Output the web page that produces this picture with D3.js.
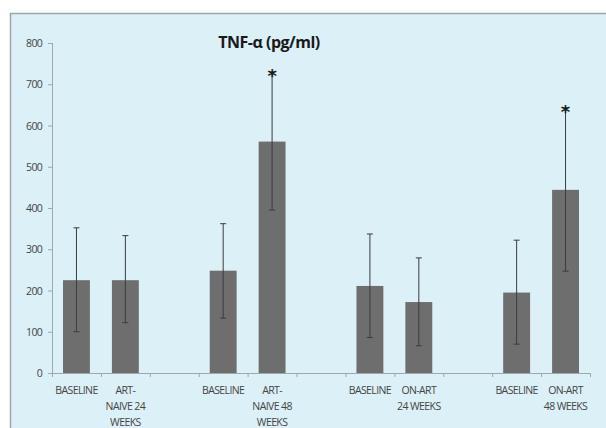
<!DOCTYPE html>
<html>
<head>
<meta charset="utf-8">
<script src="https://cdn.jsdelivr.net/npm/d3@7"></script>
<style>
  html, body { margin: 0; background: #fff; overflow: hidden; }
  svg { display: block; }
</style>
</head>
<body>
<div id="chart"></div>
<script>
// categories (lines of each x label), empty ones are the gaps between groups
const categories = [
    ['BASELINE'], ['ART-', 'NAIVE 24', 'WEEKS'], [''],
    ['BASELINE'], ['ART-', 'NAIVE 48', 'WEEKS'], [''],
    ['BASELINE'], ['ON-ART', '24 WEEKS'], [''],
    ['BASELINE'], ['ON-ART', '48 WEEKS']
];
const means = [225, 225, null, 248, 561, null, 211, 172, null, 195, 444];
const errHigh = [352, 333, null, 362, 730, null, 337, 279, null, 322, 643];
const errLow = [100, 122, null, 133, 395, null, 86, 66, null, 70, 247];
const starred = [false, false, false, false, true, false, false, false, false, false, true];
const yTicks = [0, 100, 200, 300, 400, 500, 600, 700, 800];

const width = 606, height = 428;
const margin = {left: 52, right: 16, top: 43, bottom: 55};

const svg = d3.select('#chart').append('svg')
    .attr('width', width)
    .attr('height', height);

// chart area background, frame only on top and left (rest runs off the picture)
svg.append('rect')
    .attr('x', 10).attr('y', 13)
    .attr('width', width).attr('height', height)
    .attr('fill', '#dcf0f8');
svg.append('path')
    .attr('d', `M10.5,${height}V13.5H${width}`)
    .attr('fill', 'none')
    .attr('stroke', '#9aa6ac')
    .attr('stroke-width', 1.5);

const x = d3.scaleBand()
    .domain(d3.range(categories.length))
    .range([margin.left, width - margin.right])
    .paddingInner(0.45)
    .paddingOuter(0.225);

const y = d3.scaleLinear()
    .domain([0, 800])
    .range([height - margin.bottom, margin.top]);

const step = x.step();
const x0 = margin.left;

// y axis line + ticks
svg.append('line')
    .attr('x1', x0 + 0.5).attr('x2', x0 + 0.5)
    .attr('y1', y(800)).attr('y2', y(0))
    .attr('stroke', '#a0a8ac');
svg.selectAll('.ytick')
    .data(yTicks)
    .enter()
    .append('line')
        .attr('x1', x0 - 4).attr('x2', x0)
        .attr('y1', d => y(d) + 0.5).attr('y2', d => y(d) + 0.5)
        .attr('stroke', '#a0a8ac');
svg.selectAll('.ylab')
    .data(yTicks)
    .enter()
    .append('text')
        .attr('x', x0 - 10)
        .attr('y', d => y(d) + 4)
        .attr('text-anchor', 'end')
        .attr('font-family', 'Open Sans, sans-serif')
        .attr('font-size', 10.5)
        .attr('letter-spacing', -0.7)
        .attr('fill', '#444')
        .text(d => d);

// bars
const idx = d3.range(categories.length).filter(i => means[i] != null);
svg.selectAll('.bar')
    .data(idx)
    .enter()
    .append('rect')
        .attr('x', i => x(i))
        .attr('y', i => y(means[i]))
        .attr('width', x.bandwidth())
        .attr('height', i => y(0) - y(means[i]))
        .attr('fill', '#6e6e6e');

// error bars
const cx = i => x(i) + x.bandwidth() / 2;
svg.selectAll('.err')
    .data(idx)
    .enter()
    .append('line')
        .attr('x1', cx).attr('x2', cx)
        .attr('y1', i => y(errHigh[i])).attr('y2', i => y(errLow[i]))
        .attr('stroke', '#3c3c3c')
        .attr('stroke-width', 1);
svg.selectAll('.capHi')
    .data(idx)
    .enter()
    .append('line')
        .attr('x1', i => cx(i) - 3).attr('x2', i => cx(i) + 3)
        .attr('y1', i => y(errHigh[i])).attr('y2', i => y(errHigh[i]))
        .attr('stroke', '#3c3c3c');
svg.selectAll('.capLo')
    .data(idx)
    .enter()
    .append('line')
        .attr('x1', i => cx(i) - 3).attr('x2', i => cx(i) + 3)
        .attr('y1', i => y(errLow[i])).attr('y2', i => y(errLow[i]))
        .attr('stroke', '#3c3c3c');

// significance stars
svg.selectAll('.star')
    .data(idx.filter(i => starred[i]))
    .enter()
    .append('text')
        .attr('x', cx)
        .attr('y', i => y(errHigh[i]) + 10)
        .attr('text-anchor', 'middle')
        .attr('font-family', 'DejaVu Sans, sans-serif')
        .attr('font-size', 18)
        .attr('font-weight', 'bold')
        .attr('fill', '#1a1a1a')
        .text('*');

// x axis line + ticks between categories
svg.append('line')
    .attr('x1', x0).attr('x2', x0 + step * categories.length)
    .attr('y1', y(0) + 0.5).attr('y2', y(0) + 0.5)
    .attr('stroke', '#a0a8ac');
svg.selectAll('.xtick')
    .data(d3.range(categories.length + 1))
    .enter()
    .append('line')
        .attr('x1', i => x0 + step * i + 0.5).attr('x2', i => x0 + step * i + 0.5)
        .attr('y1', y(0)).attr('y2', y(0) + 4)
        .attr('stroke', '#a0a8ac');

// x labels
const xl = svg.selectAll('.xlab')
    .data(d3.range(categories.length))
    .enter()
    .append('text')
        .attr('text-anchor', 'middle')
        .attr('font-family', 'Open Sans, sans-serif')
        .attr('font-size', 10.5)
        .attr('letter-spacing', -0.6)
        .attr('fill', '#444');
xl.selectAll('tspan')
    .data(i => categories[i].map(t => ({t, i})))
    .enter()
    .append('tspan')
        .attr('x', d => cx(d.i))
        .attr('y', (d, j) => y(0) + 21 + j * 16)
        .text(d => d.t);

// title
svg.append('text')
    .attr('x', 269)
    .attr('y', 48)
    .attr('text-anchor', 'middle')
    .attr('font-family', 'Open Sans, sans-serif')
    .attr('font-size', 16)
    .attr('font-weight', 'bold')
    .attr('letter-spacing', -0.5)
    .attr('fill', '#1a1a1a')
    .text('TNF-α (pg/ml)');
</script>
</body>
</html>
